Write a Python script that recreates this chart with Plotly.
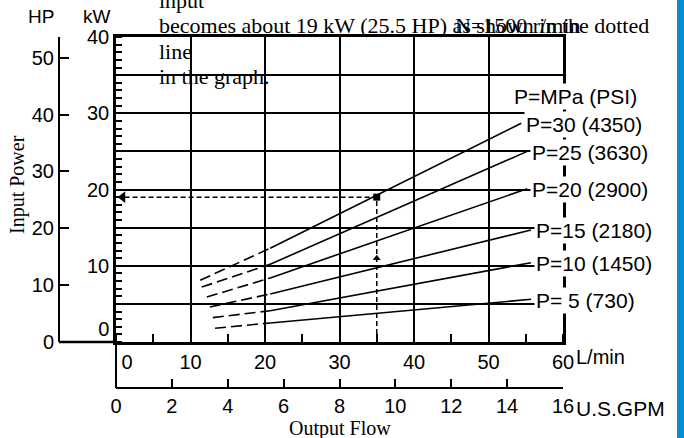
import plotly.graph_objects as go

W, H = 684, 438

# ---------------- data ----------------
curve_labels = ["P=30 (4350)", "P=25 (3630)", "P=20 (2900)",
                "P=15 (2180)", "P=10 (1450)", "P= 5 (730)"]
flow_dash_start = [11.3, 11.5, 12.2, 12.6, 13.0, 13.3]
kw_dash_start = [8.1, 7.2, 5.9, 4.6, 3.2, 1.8]
flow_solid_start = [20.7, 20.7, 20.7, 20.7, 20.7, 20.7]
kw_solid_start = [12.3, 10.2, 8.4, 6.3, 4.1, 2.5]
flow_end = [54.4, 55.2, 55.2, 55.7, 55.7, 55.7]
kw_end = [28.7, 25.0, 20.1, 14.7, 10.4, 5.6]

reading_flow = 35.0
reading_kw = 19.0
arrow_kw = 11.0

kw_grid = [0, 5, 10, 15, 20, 25, 30, 35, 40]
kw_ticktext = ["0<br>\u00a0", "", "10", "", "20", "", "30", "", "40"]
hp_ticks = [0, 10, 20, 30, 40, 50]
lmin_ticks = [0, 10, 20, 30, 40, 50, 60]
lmin_ticktext = ["\u00a0\u00a0\u00a0\u00a00", "10", "20", "30", "40", "50", "60"]
gpm_ticks = [0, 2, 4, 6, 8, 10, 12, 14, 16]
gpm_ticktext = ["0", "2", "4", "6", "8", "10", "12", "14", "16"]

text_lines = ["input",
              "becomes about 19 kW (25.5 HP) as shown in the dotted",
              "line",
              "in the graph."]
speed_text = "N=1500 r/min"

KW_PER_HP = 0.7457
LPM_PER_GPM = 3.785

# ---------------- helpers ----------------
def px(x):
    return x / W

def py(y):
    return 1 - y / H

SANS = "Liberation Sans, Arial, sans-serif"
SERIF = "Liberation Serif, Times New Roman, serif"

fig = go.Figure()

for i in range(len(curve_labels)):
    fig.add_trace(go.Scatter(
        x=[flow_dash_start[i], flow_solid_start[i]],
        y=[kw_dash_start[i], kw_solid_start[i]],
        mode="lines", line=dict(color="black", width=1.6, dash="11px,5px"),
        showlegend=False, hoverinfo="skip"))
    fig.add_trace(go.Scatter(
        x=[flow_solid_start[i], flow_end[i]],
        y=[kw_solid_start[i], kw_end[i]],
        mode="lines", line=dict(color="black", width=1.6),
        showlegend=False, hoverinfo="skip"))

# reading (dotted) path
fig.add_trace(go.Scatter(
    x=[reading_flow, reading_flow, 0],
    y=[0, reading_kw, reading_kw],
    mode="lines", line=dict(color="black", width=1.5, dash="5px,3px"),
    showlegend=False, hoverinfo="skip", cliponaxis=False))
fig.add_trace(go.Scatter(
    x=[reading_flow], y=[reading_kw], mode="markers",
    marker=dict(symbol="square", size=7, color="black"),
    showlegend=False, hoverinfo="skip", cliponaxis=False))
fig.add_trace(go.Scatter(
    x=[0.9], y=[reading_kw], mode="markers",
    marker=dict(symbol="triangle-left", size=10, color="black"),
    showlegend=False, hoverinfo="skip", cliponaxis=False))
fig.add_trace(go.Scatter(
    x=[reading_flow], y=[arrow_kw], mode="markers",
    marker=dict(symbol="triangle-up", size=7, color="black"),
    showlegend=False, hoverinfo="skip", cliponaxis=False))

# same reading point expressed on the secondary scales (keeps HP and GPM axes alive)
fig.add_trace(go.Scatter(
    x=[reading_flow], y=[reading_kw / KW_PER_HP], xaxis="x", yaxis="y2",
    mode="markers", marker=dict(size=1, opacity=0), showlegend=False, hoverinfo="skip"))
fig.add_trace(go.Scatter(
    x=[reading_flow / LPM_PER_GPM], y=[reading_kw], xaxis="x2", yaxis="y",
    mode="markers", marker=dict(size=1, opacity=0), showlegend=False, hoverinfo="skip"))

annotations = []
for i, lab in enumerate(curve_labels):
    annotations.append(dict(
        x=flow_end[i], y=kw_end[i], xref="x", yref="y", text=lab,
        showarrow=False, xanchor="left", yanchor="middle", xshift=3, yshift=-1,
        font=dict(family=SANS, size=21, color="black"),
        bgcolor="white", borderpad=1))

annotations.append(dict(x=px(512), y=py(96), xref="paper", yref="paper",
                        text="P=MPa (PSI)", showarrow=False, xanchor="left",
                        yanchor="middle", font=dict(family=SANS, size=21, color="black"),
                        bgcolor="white", borderpad=1))

# text block (serif)
line_y = [0, 26, 51, 77]
for t, yy in zip(text_lines, line_y):
    annotations.append(dict(x=px(157), y=py(yy), xref="paper", yref="paper",
                            text=t, showarrow=False, xanchor="left", yanchor="middle",
                            font=dict(family=SERIF, size=22, color="black")))
annotations.append(dict(x=px(453), y=py(26), xref="paper", yref="paper",
                        text=speed_text, showarrow=False, xanchor="left",
                        yanchor="middle", font=dict(family=SERIF, size=22, color="black")))

# unit labels
for t, xx, yy in [("HP", 41, 16), ("kW", 97, 16), ("HP", 41, 446), ("kW", 97, 446)]:
    annotations.append(dict(x=px(xx), y=py(yy), xref="paper", yref="paper", text=t,
                            showarrow=False, xanchor="center", yanchor="middle",
                            font=dict(family=SANS, size=19, color="black")))
annotations.append(dict(x=px(574), y=py(357), xref="paper", yref="paper", text="L/min",
                        showarrow=False, xanchor="left", yanchor="middle",
                        font=dict(family=SANS, size=20, color="black")))
annotations.append(dict(x=px(574), y=py(408), xref="paper", yref="paper", text="U.S.GPM",
                        showarrow=False, xanchor="left", yanchor="middle",
                        font=dict(family=SANS, size=21, color="black")))
annotations.append(dict(x=px(340), y=py(428), xref="paper", yref="paper", text="Output Flow",
                        showarrow=False, xanchor="center", yanchor="middle",
                        font=dict(family=SERIF, size=20, color="black")))
annotations.append(dict(x=px(17), y=py(185), xref="paper", yref="paper", text="Input Power",
                        showarrow=False, xanchor="center", yanchor="middle", textangle=-90,
                        font=dict(family=SERIF, size=20, color="black")))

shapes = [
    dict(type="line", xref="paper", yref="paper", x0=px(59), x1=px(116), y0=py(342), y1=py(342),
         line=dict(color="black", width=2.5)),
    dict(type="line", xref="paper", yref="paper", x0=px(116), x1=px(116), y0=py(342), y1=py(388),
         line=dict(color="black", width=2)),
    dict(type="rect", xref="paper", yref="paper", x0=px(677), x1=1, y0=0, y1=1,
         fillcolor="#0A8BCF", line=dict(width=0)),
]

dom_x = [px(116), px(563)]
dom_y = [py(342), py(37)]

fig.update_layout(
    width=W, height=H, margin=dict(l=0, r=0, t=0, b=0),
    paper_bgcolor="white", plot_bgcolor="white", showlegend=False,
    xaxis=dict(domain=dom_x, range=[0, 60], tickmode="array", tickvals=lmin_ticks,
               ticktext=lmin_ticktext, showgrid=True, gridcolor="black", gridwidth=2,
               showline=True, linecolor="black", linewidth=2.5, mirror=True,
               ticks="", zeroline=False, automargin=False,
               tickfont=dict(family=SANS, size=20, color="black"),
               minor=dict(dtick=5, tick0=0, ticks="inside", ticklen=8, tickwidth=2,
                          tickcolor="black", showgrid=False)),
    yaxis=dict(domain=dom_y, range=[0, 40], tickmode="array", tickvals=kw_grid,
               ticktext=kw_ticktext, showgrid=True, gridcolor="black", gridwidth=2,
               showline=True, linecolor="black", linewidth=2.5, mirror=True,
               ticks="", zeroline=False, automargin=False,
               tickfont=dict(family=SANS, size=20, color="black"),
               minor=dict(dtick=1, tick0=0, ticks="inside", ticklen=6, tickwidth=1.5,
                          tickcolor="black", showgrid=False)),
    yaxis2=dict(overlaying="y", anchor="free", position=px(59), side="left",
                range=[0, 40 / KW_PER_HP], tickmode="array", tickvals=hp_ticks,
                ticks="inside", ticklen=9, tickwidth=2, tickcolor="black",
                showline=True, linecolor="black", linewidth=2, showgrid=False,
                zeroline=False, automargin=False,
                tickfont=dict(family=SANS, size=20, color="black")),
    xaxis2=dict(overlaying="x", anchor="free", position=py(388), side="bottom",
                range=[0, 16], tickmode="array", tickvals=gpm_ticks, ticktext=gpm_ticktext,
                ticks="inside", ticklen=8, tickwidth=2, tickcolor="black",
                showline=True, linecolor="black", linewidth=2, showgrid=False,
                zeroline=False, automargin=False,
                tickfont=dict(family=SANS, size=20, color="black")),
    annotations=annotations, shapes=shapes,
)

fig.write_html("out.html")
